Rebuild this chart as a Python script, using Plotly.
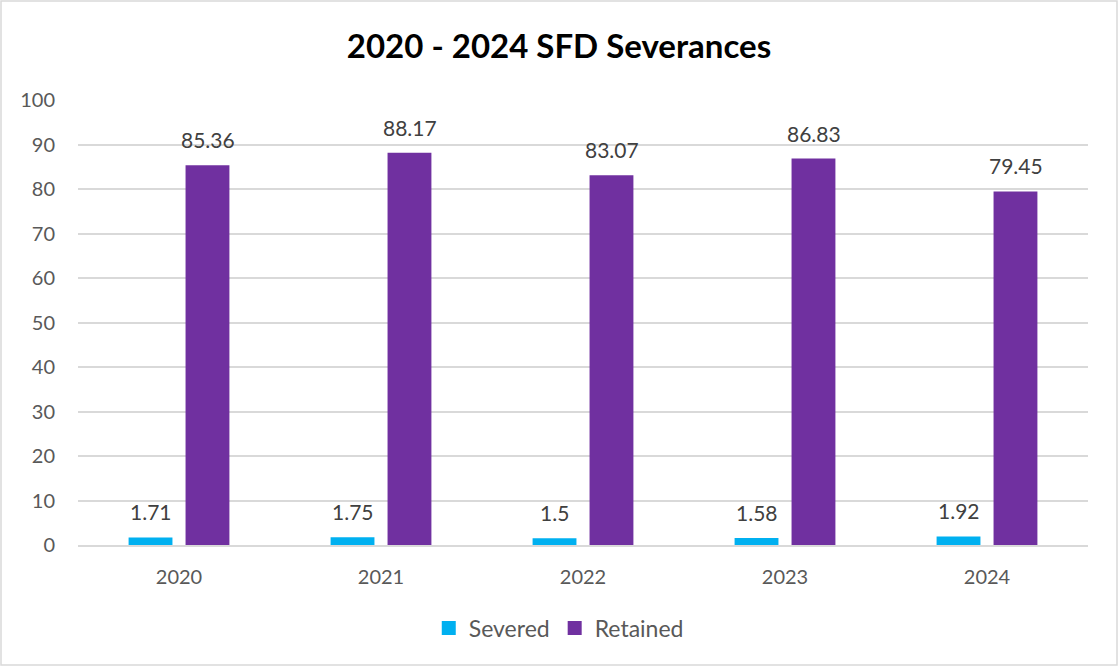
import plotly.graph_objects as go

years = ["2020", "2021", "2022", "2023", "2024"]
severed = [1.71, 1.75, 1.5, 1.58, 1.92]
retained = [85.36, 88.17, 83.07, 86.83, 79.45]
severed_labels = ["1.71", "1.75", "1.5", "1.58", "1.92"]
retained_labels = ["85.36", "88.17", "83.07", "86.83", "79.45"]

FONT = "Lato, 'Open Sans', sans-serif"
C_SEV = "#00B0F0"
C_RET = "#7030A0"

fig = go.Figure()
fig.add_trace(go.Bar(name="Severed", x=years, y=severed, marker_color=C_SEV,
                     marker_line_width=0, showlegend=False))
fig.add_trace(go.Bar(name="Retained", x=years, y=retained, marker_color=C_RET,
                     marker_line_width=0, showlegend=False))
# legend entries with larger square symbols
fig.add_trace(go.Scatter(name="Severed", x=[years[0]], y=[None], mode="markers",
                         marker=dict(symbol="square", size=14, color=C_SEV)))
fig.add_trace(go.Scatter(name="Retained", x=[years[0]], y=[None], mode="markers",
                         marker=dict(symbol="square", size=14, color=C_RET)))

# data labels (x given as category index)
for series, labels, shift in [(severed, severed_labels, -28.5), (retained, retained_labels, 28.5)]:
    for i, (yv, t) in enumerate(zip(series, labels)):
        fig.add_annotation(x=i, y=yv, text=t, showarrow=False, xshift=shift, yshift=11,
                           yanchor="bottom", xanchor="center",
                           font=dict(size=21, color="#404040", family=FONT))

fig.update_layout(
    width=1118, height=666,
    paper_bgcolor="white", plot_bgcolor="white",
    barmode="group", bargap=0.436, bargroupgap=0.23,
    margin=dict(l=78, r=30, t=100, b=121),
    title=dict(text="<b>2020 - 2024 SFD Severances</b>", x=0.5, xanchor="center",
               y=1 - 46 / 666, yanchor="middle",
               font=dict(size=33, color="black", family=FONT)),
    font=dict(family=FONT, color="#595959", size=20),
    legend=dict(orientation="h", x=0.476, xanchor="center", y=-83 / 445, yanchor="middle",
                font=dict(size=23, color="#595959"), itemwidth=30, traceorder="normal"),
    showlegend=True,
)
fig.update_yaxes(range=[0, 100], dtick=10, showgrid=True, gridcolor="#D9D9D9", gridwidth=1.5,
                 zeroline=False, showline=False, tickfont=dict(size=20, color="#595959"),
                 ticks="", ticklabelstandoff=22)
fig.update_xaxes(type="category", categoryorder="array", categoryarray=years,
                 range=[-0.5, len(years) - 0.5],
                 showline=True, linecolor="#D9D9D9", linewidth=2, ticks="",
                 tickfont=dict(size=20, color="#595959"), ticklabelstandoff=13)
fig.add_shape(type="rect", xref="paper", yref="paper", x0=-77/1010, x1=1+29/1010,
              y0=-120/445, y1=1+99/445, line=dict(color="#D9D9D9", width=1.5), layer="below")

fig.write_html("out.html", config={"displayModeBar": False},
               post_script="document.body.style.margin='0';")
